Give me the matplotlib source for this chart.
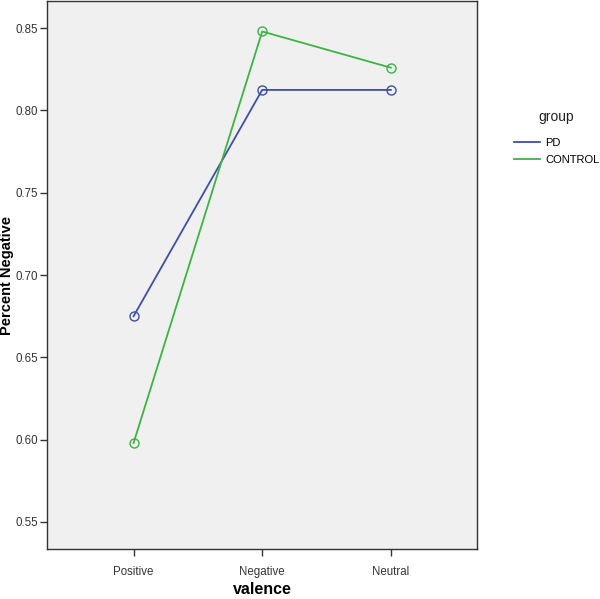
import matplotlib
matplotlib.use("Agg")
import matplotlib.pyplot as plt
from matplotlib.lines import Line2D

plt.rcParams['font.family'] = ['Liberation Sans', 'DejaVu Sans']

categories = ['Positive', 'Negative', 'Neutral']
pd_values = [0.675, 0.8125, 0.8125]
control_values = [0.598, 0.848, 0.826]
y_ticks = [0.55, 0.60, 0.65, 0.70, 0.75, 0.80, 0.85]

PD_COLOR = '#3E4FA6'
CONTROL_COLOR = '#3CB442'

fig = plt.figure(figsize=(6.0, 5.99), dpi=100)
fig.patch.set_facecolor('white')
ax = fig.add_axes([0.079, 0.0835, 0.716, 0.9145])
ax.set_facecolor('#F0F0F0')

x = range(len(categories))
ax.plot(x, pd_values, color=PD_COLOR, lw=1.3, marker='o', ms=6.5,
        mfc='none', mec=PD_COLOR, mew=1.0, label='PD')
ax.plot(x, control_values, color=CONTROL_COLOR, lw=1.3, marker='o', ms=6.5,
        mfc='none', mec=CONTROL_COLOR, mew=1.0, label='CONTROL')

ax.set_xlim(-0.67, 2.67)
ax.set_ylim(0.5336, 0.8664)
ax.set_xticks(list(x))
ax.set_xticklabels(categories)
ax.set_yticks(y_ticks)
ax.set_yticklabels([f'{v:.2f}' for v in y_ticks])

for s in ax.spines.values():
    s.set_color('#333333')
    s.set_linewidth(1.0)
ax.tick_params(axis='both', direction='out', length=5, width=1.0,
               color='#333333', labelsize=8.3, labelcolor='#333333', pad=2)
ax.tick_params(axis='x', pad=7)

# axis titles placed by hand so they stay inside the figure
fig.text(0.438, 1 - 590 / 599, 'valence', fontsize=11.5, fontweight='bold',
         ha='center', va='center')
fig.text(7 / 600, 0.54, 'Percent Negative', fontsize=10.5, fontweight='bold',
         rotation=90, ha='center', va='center')

# legend off to the right, title separate so it sits like the original
fig.text(0.897, 1 - 117 / 599, 'group', fontsize=10, color='#222222',
         ha='left', va='center')
labels = ['PD', 'CONTROL']
leg_handles = [Line2D([], [], color=PD_COLOR, lw=1.3),
               Line2D([], [], color=CONTROL_COLOR, lw=1.3)]
fig.legend(leg_handles, labels, loc='upper left',
           bbox_to_anchor=(514 / 600, 1 - 138 / 599), frameon=False,
           fontsize=8, handlelength=2.35, handletextpad=0.45,
           labelspacing=0.65, borderpad=0, borderaxespad=0)

fig.savefig('out.png', dpi=100)
